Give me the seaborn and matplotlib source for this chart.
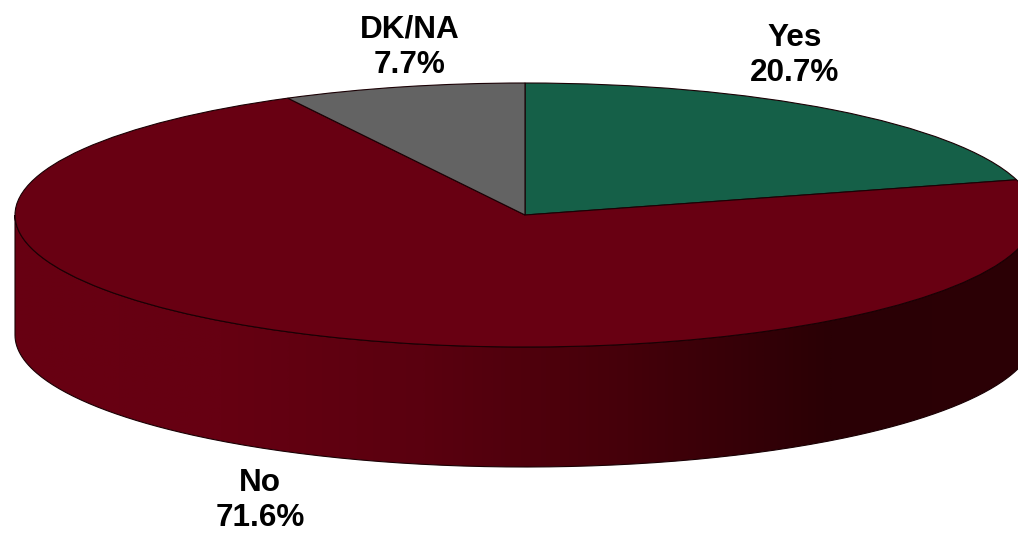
import numpy as np
import matplotlib
matplotlib.use("Agg")
import matplotlib.pyplot as plt
from matplotlib.path import Path
from matplotlib.patches import PathPatch
import seaborn as sns

categories = ["Yes", "No", "DK/NA"]
shares = [20.7, 71.6, 7.7]
slice_colors = ["#156048", "#680012", "#636363"]
wall_colors = ["#680012", "#660012", "#5a000f", "#45000a", "#2a0005", "#2c0006"]
label_px = {"Yes": (795, 55.5), "No": (260, 500.5), "DK/NA": (410, 47)}

sns.set_theme(style="white")
plt.rcParams["font.family"] = ["Liberation Sans", "DejaVu Sans"]

W, H = 1018, 534
CX, CY, RX, RY, DEPTH = 525.0, 215.0, 510.0, 132.0, 120.0

fig = plt.figure(figsize=(W / 100, H / 100), dpi=100, facecolor="white")
ax = fig.add_axes([0, 0, 1, 1])

# Pie top: unit circle squashed into an ellipse by the axes scale
wedges, _ = ax.pie(shares, colors=slice_colors, startangle=90, counterclock=False,
                   radius=1.0, wedgeprops=dict(edgecolor="#1a0004", linewidth=0.8))
for w in wedges:
    w.set_zorder(5)

xlim = ((0 - CX) / RX, (W - CX) / RX)
ylim = ((CY - H) / RY, CY / RY)
d = DEPTH / RY

# Side wall with a horizontal gradient
t = np.linspace(np.pi, 2 * np.pi, 300)
xs = np.cos(t)
ys = np.sin(t)
verts = np.r_[np.c_[xs, ys], np.c_[xs[::-1], ys[::-1] - d], [[xs[0], ys[0]]]]
wall = PathPatch(Path(verts), facecolor="none", edgecolor="#1a0004", linewidth=0.8, zorder=3)
ax.add_patch(wall)
cmap = sns.blend_palette(wall_colors, as_cmap=True)
im = ax.imshow(np.linspace(0, 1, 512)[None, :], extent=(-1, 1, -1 - d, 0), cmap=cmap,
               aspect="auto", zorder=2, interpolation="bilinear")
im.set_clip_path(wall)

ax.set_aspect("auto")
ax.set_xlim(*xlim)
ax.set_ylim(*ylim)
ax.axis("off")

for name, share in zip(categories, shares):
    px, py = label_px[name]
    ax.text(px / W, 1 - py / H, f"{name}\n{share:.1f}%", transform=ax.transAxes,
            ha="center", va="center", fontsize=22.7, fontweight="bold", color="black",
            linespacing=1.22, zorder=6)

fig.savefig("out.png", dpi=100, facecolor="white")
